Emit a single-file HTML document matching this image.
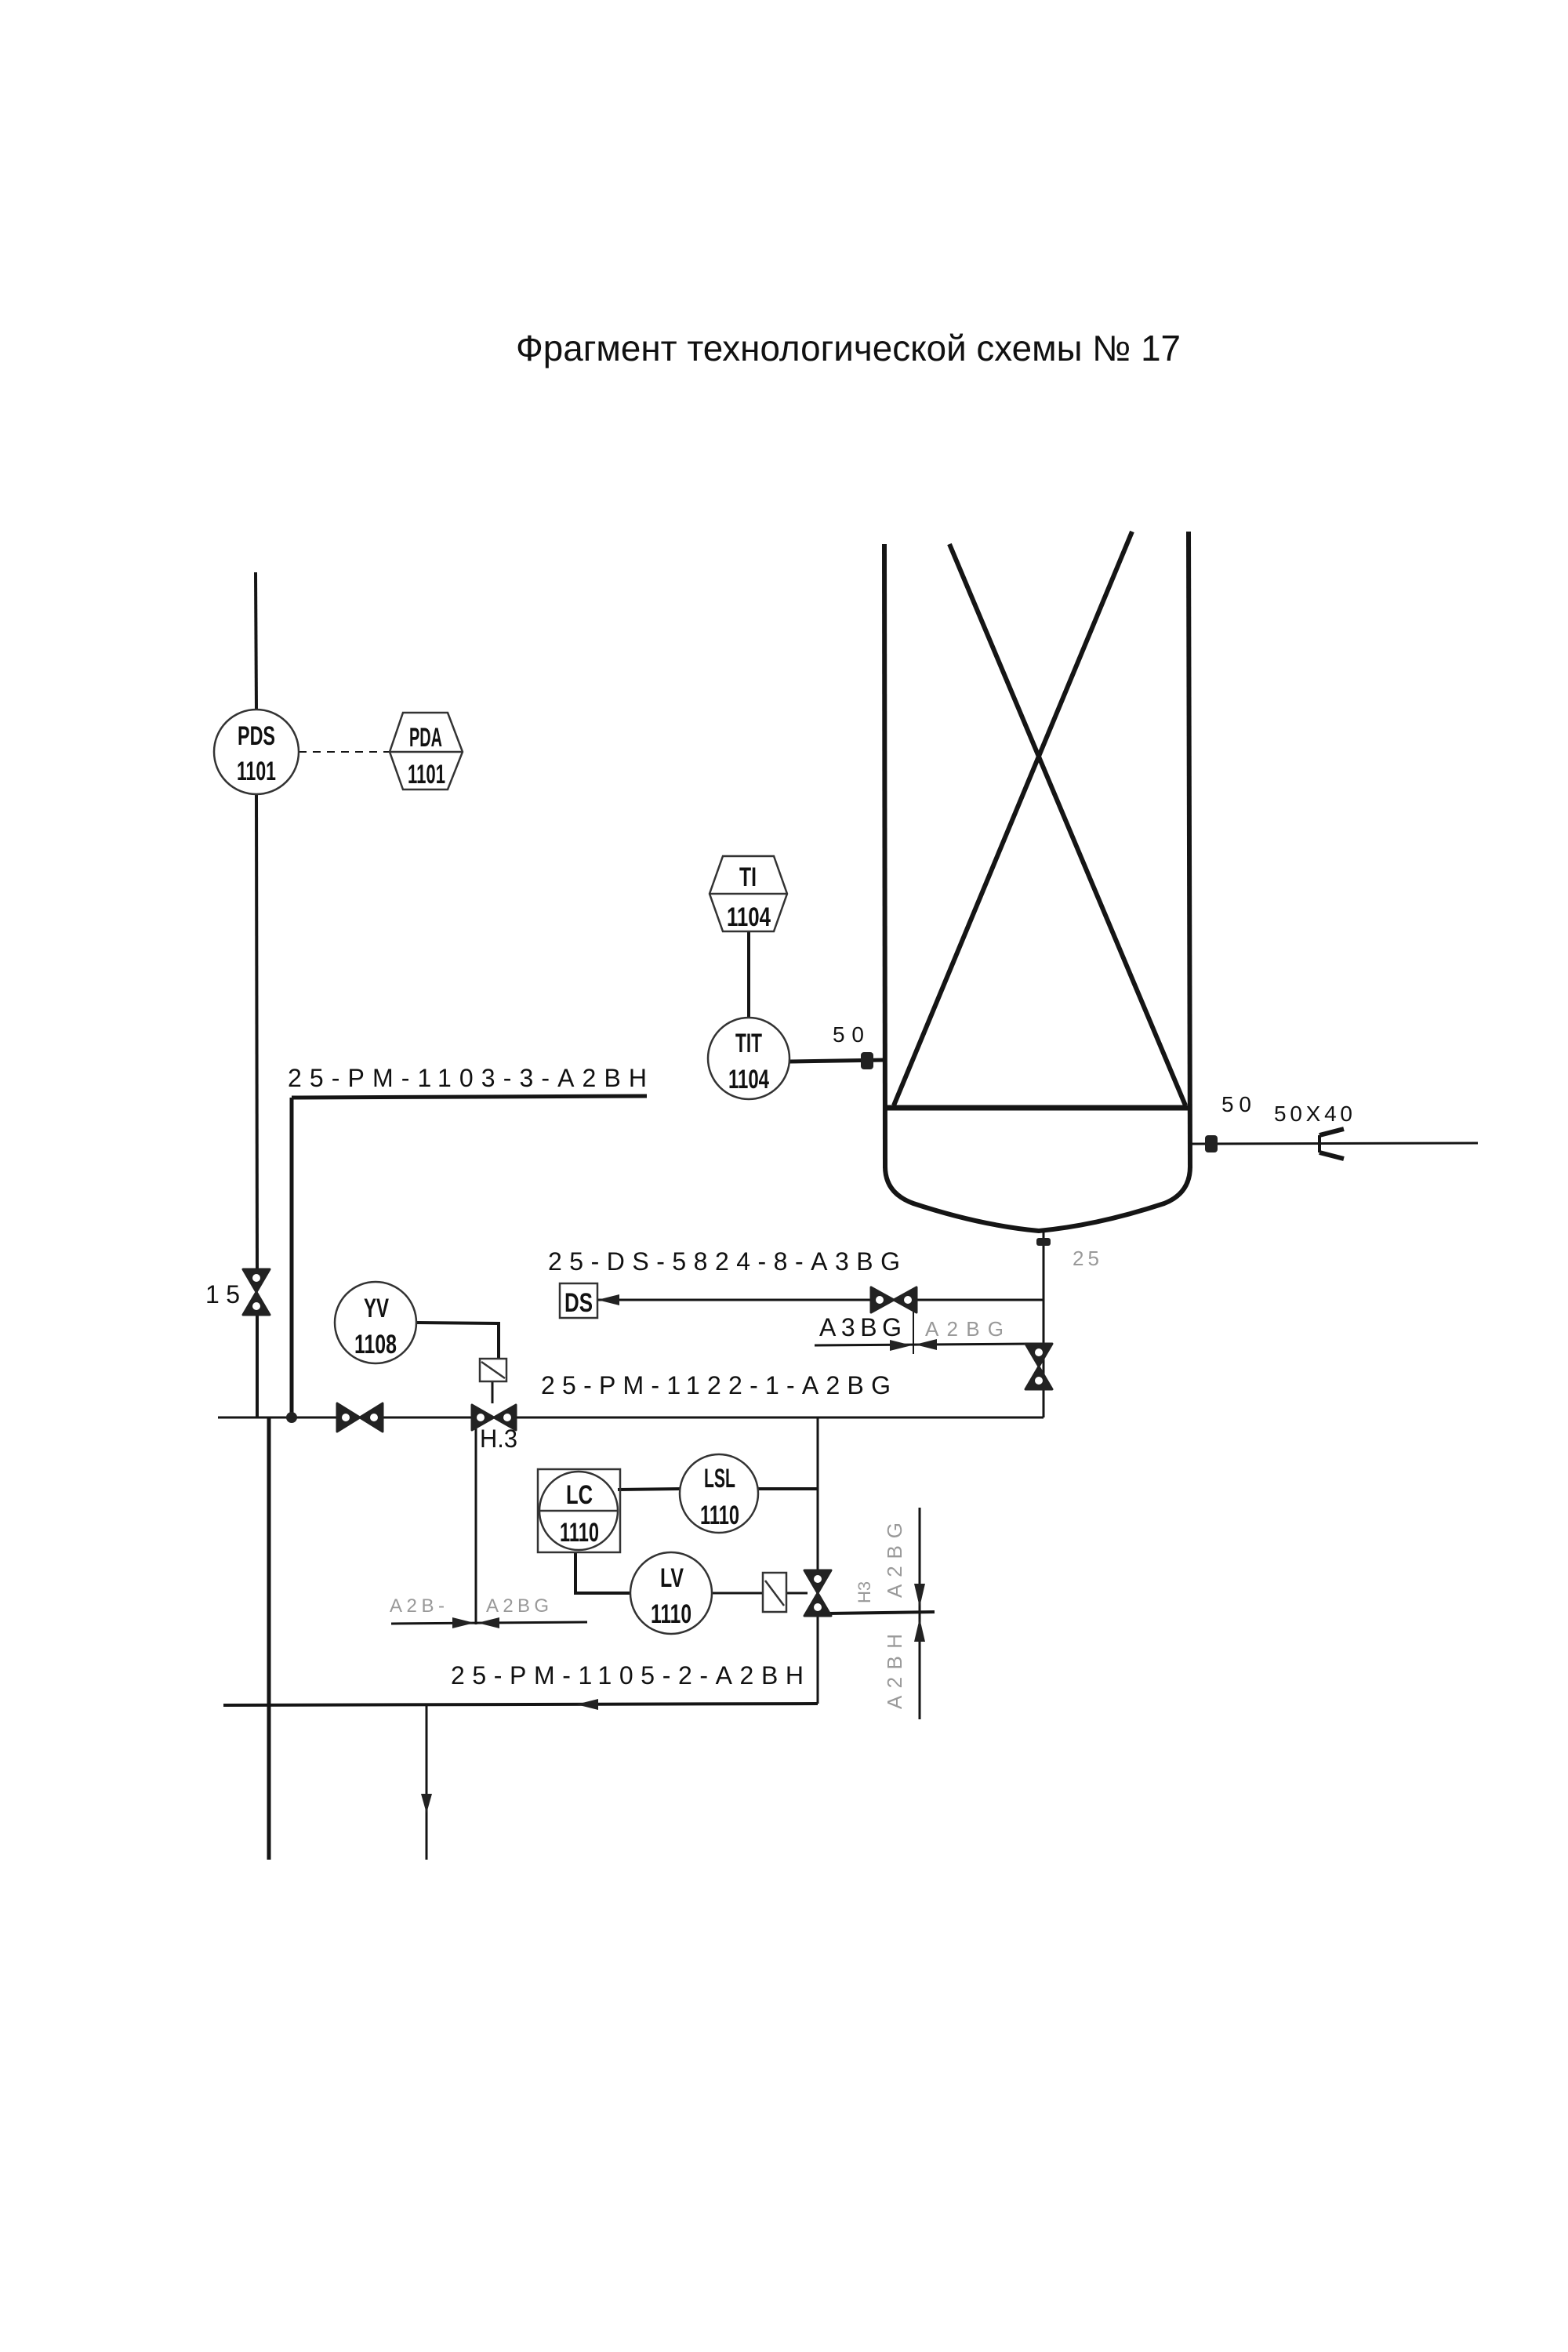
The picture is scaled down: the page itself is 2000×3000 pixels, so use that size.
<!DOCTYPE html>
<html><head><meta charset="utf-8"><style>
html,body{margin:0;padding:0;background:#fff}
svg{display:block}
text{font-family:"Liberation Sans","DejaVu Sans",sans-serif;fill:#111}
.lbl{font-size:32px}
.g{fill:#999}
.ins{font-size:34px;font-family:"Liberation Sans Narrow","Liberation Sans",sans-serif;fill:#333;font-weight:bold}
</style></head><body>
<svg width="2000" height="3000" viewBox="0 0 2000 3000" xmlns="http://www.w3.org/2000/svg">
<rect width="2000" height="3000" fill="#fff"/>
<text x="658" y="460" font-size="46" textLength="848" lengthAdjust="spacingAndGlyphs">Фрагмент технологической схемы № 17</text>

<g stroke="#151515" fill="none" stroke-width="4">
<line x1="326" y1="730" x2="327" y2="905"/>
<line x1="327" y1="1013" x2="328" y2="1619"/>
<line x1="328" y1="1677" x2="328" y2="1808"/>
<line x1="372" y1="1400" x2="372" y2="1808" stroke-width="5"/>
<line x1="372" y1="1400" x2="825" y2="1398" stroke-width="5"/>
<line x1="278" y1="1808" x2="1331" y2="1808" stroke-width="3"/>
<line x1="1331" y1="1808" x2="1331" y2="1572" stroke-width="3"/>
<line x1="343" y1="1808" x2="343" y2="2372" stroke-width="5"/>
<line x1="607" y1="1808" x2="607" y2="2072" stroke-width="3"/>
<line x1="1043" y1="1808" x2="1043" y2="2173" stroke-width="3"/>
<line x1="285" y1="2175" x2="1043" y2="2173" stroke-width="4"/>
<line x1="544" y1="2175" x2="544" y2="2372" stroke-width="3"/>
<line x1="762" y1="1658" x2="1331" y2="1658" stroke-width="3"/>
<line x1="1165" y1="1666" x2="1165" y2="1727" stroke-width="2"/>
<line x1="1039" y1="1716" x2="1316" y2="1714" stroke-width="3"/>
<line x1="499" y1="2071" x2="749" y2="2069" stroke-width="3"/>
<line x1="788" y1="1900" x2="867" y2="1899"/>
<line x1="967" y1="1899" x2="1043" y2="1899"/>
<polyline points="734,1980 734,2032 804,2032"/>
<line x1="908" y1="2032" x2="973" y2="2032" stroke-width="3"/>
<line x1="1003" y1="2032" x2="1030" y2="2032" stroke-width="3"/>
<line x1="1055" y1="2058" x2="1192" y2="2056"/>
<line x1="1173" y1="1923" x2="1173" y2="2193" stroke-width="3"/>
<polyline points="531,1687 636,1688 636,1733" stroke-width="4"/>
<line x1="628" y1="1762" x2="628" y2="1790" stroke-width="3"/>
<line x1="381" y1="959" x2="497" y2="959" stroke-width="2" stroke-dasharray="10,8"/>
<line x1="955" y1="1188" x2="955" y2="1298" stroke-width="4"/>
<line x1="1007" y1="1354" x2="1129" y2="1352" stroke-width="5"/>
<line x1="1518" y1="1459" x2="1885" y2="1458" stroke-width="3"/>
<line x1="1128" y1="694" x2="1129" y2="1490" stroke-width="6"/>
<line x1="1516" y1="678" x2="1518" y2="1490" stroke-width="6"/>
<line x1="1129" y1="1413" x2="1518" y2="1413" stroke-width="7"/>
<line x1="1140" y1="1410" x2="1444" y2="678" stroke-width="6"/>
<line x1="1512" y1="1410" x2="1211" y2="694" stroke-width="6"/>
<path d="M1129 1488 Q1129 1522 1165 1535 Q1250 1563 1325 1570 Q1400 1563 1485 1535 Q1518 1522 1518 1488" stroke-width="6"/>
<line x1="1683" y1="1448" x2="1683" y2="1470" stroke-width="4"/>
<line x1="1683" y1="1448" x2="1714" y2="1440" stroke-width="6"/>
<line x1="1683" y1="1470" x2="1714" y2="1478" stroke-width="6"/>
</g>

<g stroke="#333" stroke-width="2.5" fill="#fff">
<circle cx="327" cy="959" r="54"/>
<circle cx="479" cy="1687" r="52"/>
<circle cx="955" cy="1350" r="52"/>
<circle cx="917" cy="1905" r="50"/>
<circle cx="856" cy="2032" r="52"/>
<rect x="686" y="1874" width="105" height="106" fill="none"/>
<circle cx="738" cy="1927" r="50"/>
<line x1="688" y1="1927" x2="788" y2="1927"/>
<polygon points="514,909 571,909 590,959 571,1007 514,1007 497,959"/>
<line x1="497" y1="959" x2="590" y2="959"/>
<polygon points="922,1092 987,1092 1004,1140 987,1188 922,1188 905,1140"/>
<line x1="905" y1="1140" x2="1004" y2="1140"/>
<rect x="714" y="1637" width="48" height="44"/>
<rect x="612" y="1733" width="34" height="29"/>
<line x1="614" y1="1737" x2="644" y2="1758"/>
<rect x="973" y="2006" width="30" height="50"/>
<line x1="976" y1="2016" x2="1000" y2="2048"/>
</g>
<g class="ins">
<text x="303" y="950" textLength="48" lengthAdjust="spacingAndGlyphs">PDS</text>
<text x="302" y="995" textLength="50" lengthAdjust="spacingAndGlyphs">1101</text>
<text x="522" y="952" textLength="42" lengthAdjust="spacingAndGlyphs">PDA</text>
<text x="520" y="999" textLength="48" lengthAdjust="spacingAndGlyphs">1101</text>
<text x="943" y="1130" textLength="22" lengthAdjust="spacingAndGlyphs">TI</text>
<text x="927" y="1181" textLength="56" lengthAdjust="spacingAndGlyphs">1104</text>
<text x="938" y="1342" textLength="34" lengthAdjust="spacingAndGlyphs">TIT</text>
<text x="929" y="1388" textLength="52" lengthAdjust="spacingAndGlyphs">1104</text>
<text x="464" y="1680" textLength="32" lengthAdjust="spacingAndGlyphs">YV</text>
<text x="452" y="1726" textLength="54" lengthAdjust="spacingAndGlyphs">1108</text>
<text x="722" y="1918" textLength="34" lengthAdjust="spacingAndGlyphs">LC</text>
<text x="714" y="1966" textLength="50" lengthAdjust="spacingAndGlyphs">1110</text>
<text x="898" y="1897" textLength="40" lengthAdjust="spacingAndGlyphs">LSL</text>
<text x="893" y="1944" textLength="50" lengthAdjust="spacingAndGlyphs">1110</text>
<text x="842" y="2024" textLength="30" lengthAdjust="spacingAndGlyphs">LV</text>
<text x="830" y="2070" textLength="52" lengthAdjust="spacingAndGlyphs">1110</text>
<text x="720" y="1673" textLength="36" lengthAdjust="spacingAndGlyphs">DS</text>
</g>

<g fill="#222" stroke="#222" stroke-width="3" stroke-linejoin="round">
<polygon points="310,1619 344,1619 327,1648 344,1677 310,1677 327,1648"/>
<polygon points="430,1790 430,1826 459,1808 488,1790 488,1826 459,1808"/>
<polygon points="602,1792 602,1824 630,1808 658,1792 658,1824 630,1808"/>
<polygon points="1111,1642 1111,1674 1140,1658 1169,1642 1169,1674 1140,1658"/>
<polygon points="1308,1714 1342,1714 1325,1743 1342,1772 1308,1772 1325,1743"/>
<polygon points="1026,2003 1060,2003 1043,2032 1060,2061 1026,2061 1043,2032"/>
</g>
<g fill="#fff">
<circle cx="327" cy="1630" r="5"/><circle cx="327" cy="1666" r="5"/>
<circle cx="441" cy="1808" r="5"/><circle cx="477" cy="1808" r="5"/>
<circle cx="613" cy="1808" r="5"/><circle cx="647" cy="1808" r="5"/>
<circle cx="1122" cy="1658" r="5"/><circle cx="1158" cy="1658" r="5"/>
<circle cx="1325" cy="1725" r="5"/><circle cx="1325" cy="1761" r="5"/>
<circle cx="1043" cy="2014" r="5"/><circle cx="1043" cy="2050" r="5"/>
</g>
<g fill="#222">
<circle cx="372" cy="1808" r="7"/>
<rect x="1098" y="1342" width="16" height="22" rx="4"/>
<rect x="1537" y="1448" width="16" height="22" rx="4"/>
<rect x="1322" y="1579" width="18" height="10" rx="3"/>
<polygon points="762,1658 790,1651 790,1665"/>
<polygon points="1163,1716 1135,1709 1135,1723"/>
<polygon points="1167,1715 1195,1708 1195,1722"/>
<polygon points="605,2070 577,2063 577,2077"/>
<polygon points="609,2070 637,2063 637,2077"/>
<polygon points="735,2174 763,2167 763,2181"/>
<polygon points="1173,2050 1166,2020 1180,2020"/>
<polygon points="1173,2064 1166,2094 1180,2094"/>
<polygon points="544,2313 537,2288 551,2288"/>
</g>

<g class="lbl">
<text x="367" y="1386" textLength="458" lengthAdjust="spacing">25-PM-1103-3-A2BH</text>
<text x="699" y="1620" textLength="449" lengthAdjust="spacing">25-DS-5824-8-A3BG</text>
<text x="690" y="1778" textLength="446" lengthAdjust="spacing">25-PM-1122-1-A2BG</text>
<text x="575" y="2148" textLength="450" lengthAdjust="spacing">25-PM-1105-2-A2BH</text>
<text x="1045" y="1704" textLength="105" lengthAdjust="spacing">A3BG</text>
<text x="1180" y="1704" textLength="100" lengthAdjust="spacing" class="g" font-size="26">A2BG</text>
<text x="497" y="2056" textLength="70" lengthAdjust="spacing" class="g" font-size="24">A2B-</text>
<text x="620" y="2056" textLength="80" lengthAdjust="spacing" class="g" font-size="24">A2BG</text>
<text x="612" y="1846" textLength="48" lengthAdjust="spacingAndGlyphs">H.3</text>
<text x="262" y="1662" textLength="44" lengthAdjust="spacing">15</text>
<text x="1062" y="1329" textLength="40" font-size="28">50</text>
<text x="1558" y="1418" textLength="38" font-size="28">50</text>
<text x="1625" y="1430" textLength="100" font-size="28" lengthAdjust="spacing">50X40</text>
<text x="1368" y="1614" textLength="34" font-size="26" class="g">25</text>
<text transform="translate(1150,2038) rotate(-90)" textLength="96" font-size="26" class="g">A2BG</text>
<text transform="translate(1150,2180) rotate(-90)" textLength="96" font-size="26" class="g">A2BH</text>
<text transform="translate(1110,2045) rotate(-90)" font-size="22" class="g">H3</text>
</g>
</svg>
</body></html>
